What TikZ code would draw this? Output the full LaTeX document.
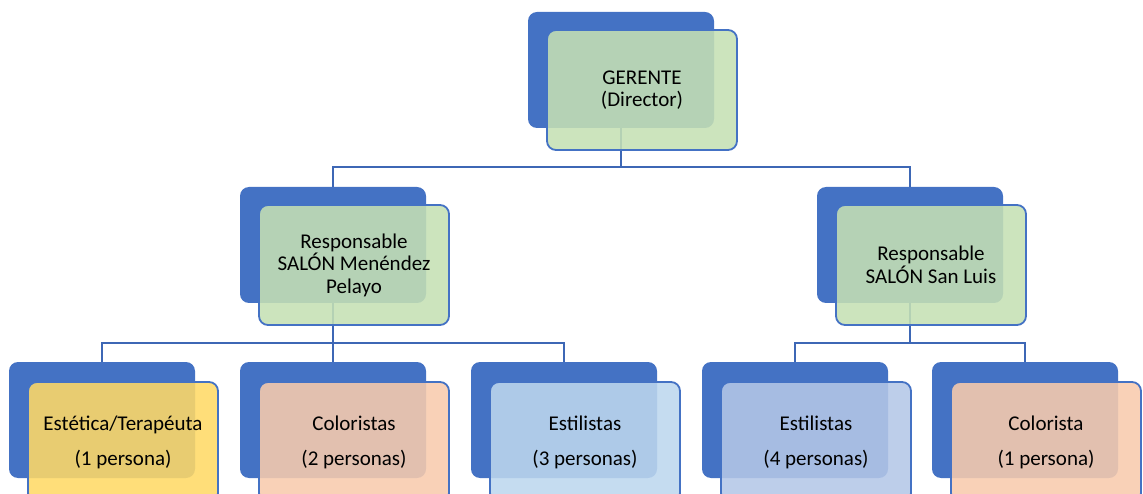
\documentclass[tikz,border=0pt]{standalone}
\usepackage{fontspec}
\setmainfont{Carlito}
\usepackage{xcolor}
\usetikzlibrary{positioning}

\definecolor{azul}{HTML}{4472C4}
\definecolor{linea}{HTML}{3D67B5}
\definecolor{verde}{HTML}{C5E0B4}
\definecolor{amarillo}{HTML}{FFD966}
\definecolor{naranja}{HTML}{F8CBAD}
\definecolor{celeste}{HTML}{BDD7EE}
\definecolor{lila}{HTML}{B4C7E7}

\begin{document}
\begin{tikzpicture}[x=1pt, y=-1pt,
            back/.style={rectangle, fill=azul, rounded corners=9pt, minimum width=186pt, minimum height=116pt, inner sep=0pt},
            front/.style={rectangle, draw=azul, line width=1.8pt, fill opacity=0.88, text opacity=1, rounded corners=9pt, minimum width=190pt, minimum height=120pt, inner sep=0pt, align=center, font=\fontsize{21}{22.5}\selectfont},
            conn/.style={draw=linea, line width=1.6pt}]

            \useasboundingbox (0,0) rectangle (1143,494);

            % fondos
            \node[back] (ger) at (621,70) {};
            \node[back] (sml) at (333,245) {};
            \node[back] (ssl) at (910,245) {};
            \node[back] (est) at (102,420) {};
            \node[back] (col) at (333,420) {};
            \node[back] (sti) at (564,420) {};
            \node[back] (sti2) at (795,420) {};
            \node[back] (col2) at (1025,420) {};

            % conectores
            \coordinate (j1) at (621,167);
            \coordinate (j2) at (333,343);
            \coordinate (j3) at (910,343);
            \draw[conn] (ger.south) -- (j1) -| (sml.north);
            \draw[conn] (j1) -| (ssl.north);
            \draw[conn] (sml.south) -- (j2) -| (est.north);
            \draw[conn] (j2) -- (col.north);
            \draw[conn] (j2) -| (sti.north);
            \draw[conn] (ssl.south) -- (j3) -| (sti2.north);
            \draw[conn] (j3) -| (col2.north);

            % cajas
            \node[front, fill=verde] (ger-f) at (642,90) {GERENTE\\(Director)};
            \node[front, fill=verde] (sml-f) at (354,265) {Responsable\\SALÓN Menéndez\\Pelayo};
            \node[front, fill=verde] (ssl-f) at (931,265) {Responsable\\SALÓN San Luis};
            \node[front, fill=amarillo] (est-f) at (123,442) {Estética/Terapéuta\\[12.5pt](1 persona)};
            \node[front, fill=naranja] (col-f) at (354,442) {Coloristas\\[12.5pt](2 personas)};
            \node[front, fill=celeste] (sti-f) at (585,442) {Estilistas\\[12.5pt](3 personas)};
            \node[front, fill=lila] (sti2-f) at (816,442) {Estilistas\\[12.5pt](4 personas)};
            \node[front, fill=naranja] (col2-f) at (1046,442) {Colorista\\[12.5pt](1 persona)};
        \end{tikzpicture}
\end{document}
